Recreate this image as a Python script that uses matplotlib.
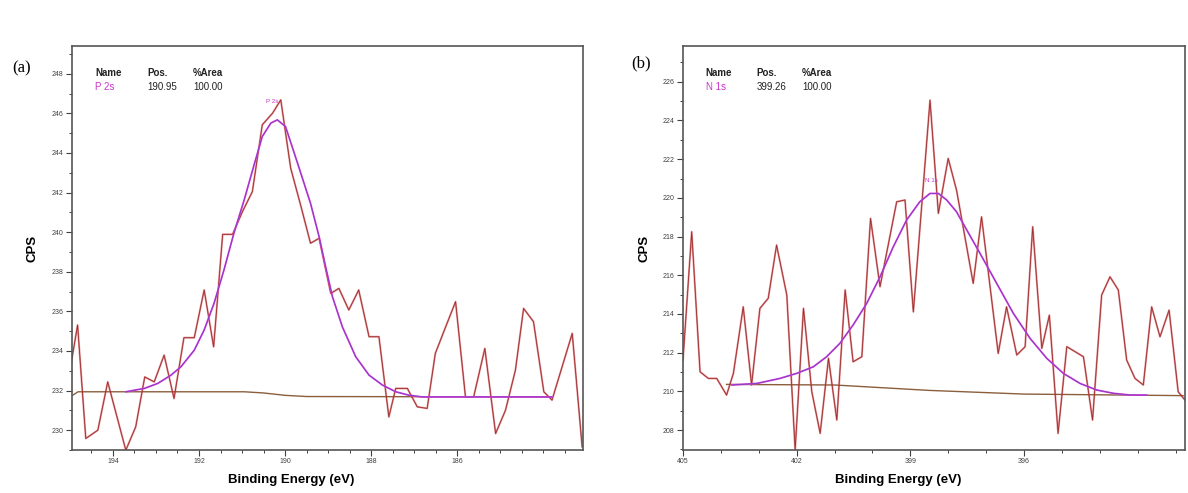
import matplotlib
matplotlib.use("Agg")
import matplotlib.pyplot as plt
from matplotlib.ticker import MultipleLocator, FixedLocator

plt.rcParams['font.family'] = ['Liberation Sans', 'DejaVu Sans']

# ---- panel (a): P 2s ----
p2s_be = [194.97, 194.82, 194.63, 194.35, 194.12, 193.70, 193.47, 193.26, 193.04, 192.81,
          192.58, 192.35, 192.11, 191.88, 191.66, 191.45, 191.22, 190.99, 190.76, 190.53,
          190.29, 190.10, 189.87, 189.63, 189.41, 189.21, 188.94, 188.75, 188.52, 188.29,
          188.05, 187.82, 187.59, 187.43, 187.16, 186.93, 186.70, 186.51, 186.27, 186.04,
          185.81, 185.62, 185.36, 185.11, 184.88, 184.65, 184.46, 184.23, 183.99, 183.80,
          183.33, 183.10]
p2s_cps = [233.37, 235.31, 229.58, 230.00, 232.44, 228.99, 230.17, 232.69, 232.44, 233.79,
           231.60, 234.67, 234.67, 237.08, 234.21, 239.89, 239.89, 241.04, 242.05, 245.42,
           246.01, 246.68, 243.23, 241.29, 239.44, 239.69, 236.91, 237.16, 236.07, 237.08,
           234.72, 234.72, 230.67, 232.11, 232.11, 231.18, 231.10, 233.88, 235.22, 236.49,
           231.68, 231.68, 234.13, 229.83, 231.01, 233.03, 236.15, 235.48, 231.94, 231.52,
           234.89, 229.16]
p2s_fit_be = [193.70, 193.27, 192.96, 192.65, 192.42, 192.11, 191.88, 191.65, 191.42, 191.19,
              190.95, 190.72, 190.53, 190.33, 190.18, 189.99, 189.71, 189.41, 189.21, 189.06,
              188.90, 188.67, 188.36, 188.05, 187.74, 187.43, 187.13, 186.82, 183.80]
p2s_fit_cps = [231.94, 232.11, 232.36, 232.78, 233.20, 234.04, 235.06, 236.41, 238.09, 239.94,
               241.63, 243.40, 244.83, 245.51, 245.67, 245.33, 243.48, 241.46, 239.77, 238.26,
               236.74, 235.22, 233.71, 232.78, 232.28, 231.94, 231.77, 231.68, 231.68]
p2s_bg_be = [194.93, 194.81, 190.95, 190.50, 190.00, 189.50, 183.80]
p2s_bg_cps = [231.77, 231.94, 231.94, 231.88, 231.76, 231.70, 231.68]
p2s_xticks = [194, 192, 190, 188, 186]

# ---- panel (b): N 1s ----
n1s_be = [405.00, 404.77, 404.55, 404.33, 404.11, 403.85, 403.67, 403.41, 403.19, 402.97,
          402.75, 402.53, 402.26, 402.04, 401.82, 401.60, 401.38, 401.16, 400.94, 400.72,
          400.51, 400.28, 400.05, 399.80, 399.36, 399.14, 398.92, 398.48, 398.26, 398.00,
          397.78, 397.34, 397.12, 396.68, 396.46, 396.19, 395.97, 395.77, 395.53, 395.33,
          395.10, 394.87, 394.43, 394.19, 393.95, 393.73, 393.51, 393.29, 393.07, 392.85,
          392.63, 392.41, 392.17, 391.93, 391.75]
n1s_cps = [211.62, 218.25, 211.01, 210.67, 210.67, 209.81, 210.93, 214.37, 210.33, 214.29,
           214.81, 217.56, 214.98, 206.97, 214.29, 209.98, 207.83, 211.71, 208.52, 215.24,
           211.53, 211.79, 218.94, 215.41, 219.80, 219.89, 214.11, 225.05, 219.20, 222.04,
           220.40, 215.58, 219.02, 211.96, 214.37, 211.88, 212.31, 218.51, 212.22, 213.94,
           207.83, 212.31, 211.79, 208.52, 214.98, 215.92, 215.24, 211.62, 210.67, 210.33,
           214.37, 212.82, 214.20, 209.98, 209.55]
n1s_fit_be = [403.71, 403.05, 402.44, 402.00, 401.56, 401.21, 400.86, 400.51, 400.15, 399.80,
              399.45, 399.10, 398.75, 398.48, 398.26, 398.04, 397.78, 397.51, 397.16, 396.72,
              396.28, 395.84, 395.40, 394.96, 394.52, 394.08, 393.64, 393.20, 392.76]
n1s_fit_cps = [210.33, 210.41, 210.67, 210.93, 211.27, 211.79, 212.48, 213.43, 214.55, 215.92,
               217.47, 218.85, 219.80, 220.23, 220.23, 219.89, 219.28, 218.34, 217.13, 215.58,
               214.03, 212.74, 211.71, 210.93, 210.41, 210.07, 209.90, 209.81, 209.81]
n1s_bg_be = [403.85, 401.00, 398.50, 396.00, 391.80]
n1s_bg_cps = [210.36, 210.33, 210.05, 209.86, 209.78]
n1s_xticks = [405, 402, 399, 396]

panels = [
    dict(be=p2s_be, cps=p2s_cps, fit_be=p2s_fit_be, fit_cps=p2s_fit_cps,
         bg_be=p2s_bg_be, bg_cps=p2s_bg_cps, xlim=(194.95, 183.08), ylim=(229.0, 249.4),
         xticks=p2s_xticks, xmin=0.5, name='P 2s', pos='190.95', area='100.00', letter='(a)',
         peak_lbl=(190.3, 246.6), rect=[72, 46, 511, 404], letter_px=(22, 68)),
    dict(be=n1s_be, cps=n1s_cps, fit_be=n1s_fit_be, fit_cps=n1s_fit_cps,
         bg_be=n1s_bg_be, bg_cps=n1s_bg_cps, xlim=(405.0, 391.75), ylim=(206.97, 227.85),
         xticks=n1s_xticks, xmin=1, name='N 1s', pos='399.26', area='100.00', letter='(b)',
         peak_lbl=(398.44, 220.9), rect=[683, 46, 502, 404], letter_px=(641, 63)),
]

W, H = 1188, 493
fig = plt.figure(figsize=(W / 100, H / 100), dpi=100)

for p in panels:
    l, t, w, h = p['rect']
    ax = fig.add_axes([l / W, 1 - (t + h) / H, w / W, h / H])

    ax.plot(p['bg_be'], p['bg_cps'], color='#8b5e3c', lw=1.0)
    ax.plot(p['be'], p['cps'], color='#d2474c', lw=1.4, alpha=0.6)
    ax.plot(p['be'], p['cps'], color='#9a2e2e', lw=0.6)
    ax.plot(p['fit_be'], p['fit_cps'], color='#e040e0', lw=1.3)
    ax.plot(p['fit_be'], p['fit_cps'], color='#7a3fbf', lw=0.6)

    ax.set_xlim(*p['xlim'])
    ax.set_ylim(*p['ylim'])
    ax.xaxis.set_major_locator(FixedLocator(p['xticks']))
    ax.xaxis.set_minor_locator(MultipleLocator(p['xmin']))
    ax.yaxis.set_major_locator(MultipleLocator(2))
    ax.yaxis.set_minor_locator(MultipleLocator(1))
    ax.tick_params(which='major', direction='out', length=4, width=0.8,
                   colors='#404040', labelsize=5, pad=2)
    ax.tick_params(which='minor', direction='out', length=2.5, width=0.7, colors='#404040')
    ax.yaxis.set_major_formatter(plt.FuncFormatter(lambda v, _: f'{v:.0f}'))
    ax.xaxis.set_major_formatter(plt.FuncFormatter(lambda v, _: f'{v:.0f}'))
    for s in ax.spines.values():
        s.set_color('#555555')
        s.set_linewidth(1.2)

    ax.set_xlabel('Binding Energy (eV)', fontsize=9.5, fontweight='bold', va='center')
    ax.xaxis.set_label_coords(0.428, -0.074)
    ax.set_ylabel('CPS', fontsize=9.5, fontweight='bold', va='center')
    ax.yaxis.set_label_coords(-39 / w, 0.5)

    # CasaXPS style component table
    for xf, txt in [(0.045, 'Name'), (0.147, 'Pos.'), (0.237, '%Area')]:
        ax.text(xf, 0.933, txt, transform=ax.transAxes, fontsize=7, fontweight='bold',
                color='#222222', va='center', ha='left')
    ax.text(0.045, 0.899, p['name'], transform=ax.transAxes, fontsize=7,
            color='#cc33cc', va='center', ha='left')
    ax.text(0.147, 0.899, p['pos'], transform=ax.transAxes, fontsize=7,
            color='#222222', va='center', ha='left')
    ax.text(0.237, 0.899, p['area'], transform=ax.transAxes, fontsize=7,
            color='#222222', va='center', ha='left')

    ax.text(p['peak_lbl'][0], p['peak_lbl'][1], p['name'], fontsize=4.5,
            color='#cc33cc', ha='center', va='center')

    lx, ly = p['letter_px']
    fig.text(lx / W, 1 - ly / H, p['letter'], fontsize=12, family='Liberation Serif',
             ha='center', va='center')

fig.savefig('out.png', dpi=100)
